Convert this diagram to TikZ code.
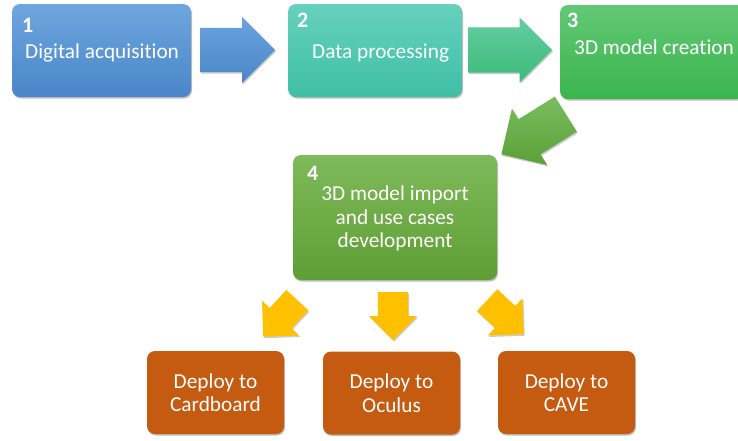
\documentclass[tikz,border=0pt]{standalone}
\usepackage{fontspec}
\setmainfont{Carlito}[Ligatures=NoCommon]
\usetikzlibrary{shapes.arrows,shadows}

\definecolor{acqTop}{HTML}{6EA6DE}
\definecolor{acqBot}{HTML}{4A86C8}
\definecolor{procTop}{HTML}{66D1BD}
\definecolor{procBot}{HTML}{3FBFA5}
\definecolor{modelTop}{HTML}{62C874}
\definecolor{modelBot}{HTML}{3BB54E}
\definecolor{importTop}{HTML}{7FBA5A}
\definecolor{importBot}{HTML}{5E9E35}
\definecolor{deployFill}{HTML}{C55A11}
\definecolor{deployArrow}{HTML}{FFC000}

\begin{document}
\begin{tikzpicture}[
                x=1pt, y=-1pt,
                stepBox/.style={rounded corners=8pt,inner sep=0pt,
                                drop shadow={shadow xshift=1pt,shadow yshift=-1.5pt,
                                             opacity=0.25,fill=black}},
                stepText/.style={text=white,inner sep=0pt,
                                 font=\fontsize{21.3}{23.5}\selectfont},
                stepNum/.style={text=white,inner sep=0pt,anchor=north west,
                                font=\bfseries\fontsize{22}{22}\selectfont},
                blockArrow/.style={single arrow,inner xsep=0pt,anchor=tail,
                                   drop shadow={shadow xshift=1pt,shadow yshift=-1.5pt,
                                                opacity=0.2,fill=black}},
                deployBox/.style={stepBox,fill=deployFill,
                                  minimum width=137pt,minimum height=83pt}]
                \useasboundingbox (0,0) rectangle (738,440);
                % top row
                \node[stepBox,top color=acqTop,bottom color=acqBot,
                      minimum width=179pt,minimum height=93pt] (acq) at (101.5,50.5) {};
                \node[stepBox,top color=procTop,bottom color=procBot,
                      minimum width=174pt,minimum height=93pt] (proc) at (375,50.5) {};
                \node[stepBox,top color=modelTop,bottom color=modelBot,
                      minimum width=185pt,minimum height=94pt] (model) at (652.5,52) {};
                \node[stepNum] (acqNum) at (22,18) {1};
                \node[stepNum] (procNum) at (297,13) {2};
                \node[stepNum] (modelNum) at (567,13) {3};
                \node[stepText,anchor=base west] (acqText) at (25,58) {Digital acquisition};
                \node[stepText,anchor=base west] (procText) at (312,58) {Data processing};
                \node[stepText,anchor=base west] (modelText) at (574,54) {3D model creation};
                % arrows between the steps
                \node[blockArrow,top color=acqTop!90!acqBot,bottom color=acqBot,
                      minimum height=75pt,inner ysep=22pt,
                      single arrow head extend=11pt] (acqToProc) at (200,50) {};
                \node[blockArrow,top color=procTop!60!modelTop,bottom color=procBot!50!modelBot,
                      minimum height=84pt,inner ysep=22.5pt,
                      single arrow head extend=10pt] (procToModel) at (468,50) {};
                \node[blockArrow,top color=importTop!80!modelTop,bottom color=importBot!90!modelBot,
                      minimum height=76pt,inner ysep=20.5pt,
                      single arrow head extend=12.5pt,
                      rotate=212] (modelToImport) at (566,114) {};
                % import step
                \node[stepBox,top color=importTop,bottom color=importBot,
                      minimum width=204pt,minimum height=125pt] (import) at (395,217.5) {};
                \node[stepNum] (importNum) at (307,166) {4};
                \node[stepText,align=center] (importText) at (395,218.5)
                      {3D model import\\and use cases\\development};
                % deploy arrows
                \node[blockArrow,fill=deployArrow,minimum height=50pt,inner ysep=14.75pt,
                      single arrow head extend=10.5pt,
                      rotate=227] (toCard) at (297.5,300) {};
                \node[blockArrow,fill=deployArrow,minimum height=48pt,inner ysep=15pt,
                      single arrow head extend=9pt,
                      rotate=270] (toOculus) at (393,292) {};
                \node[blockArrow,fill=deployArrow,minimum height=50pt,inner ysep=14.75pt,
                      single arrow head extend=10.5pt,
                      rotate=317] (toCave) at (487,300) {};
                % deploy targets
                \node[deployBox] (card) at (215.5,392.5) {};
                \node[deployBox] (oculus) at (391.5,393) {};
                \node[deployBox] (cave) at (566.5,392.5) {};
                \node[stepText,align=center] (cardText) at (card) {Deploy to\\Cardboard};
                \node[stepText,align=center] (oculusText) at (oculus) {Deploy to\\Oculus};
                \node[stepText,align=center] (caveText) at (cave) {Deploy to\\CAVE};
            \end{tikzpicture}
\end{document}
